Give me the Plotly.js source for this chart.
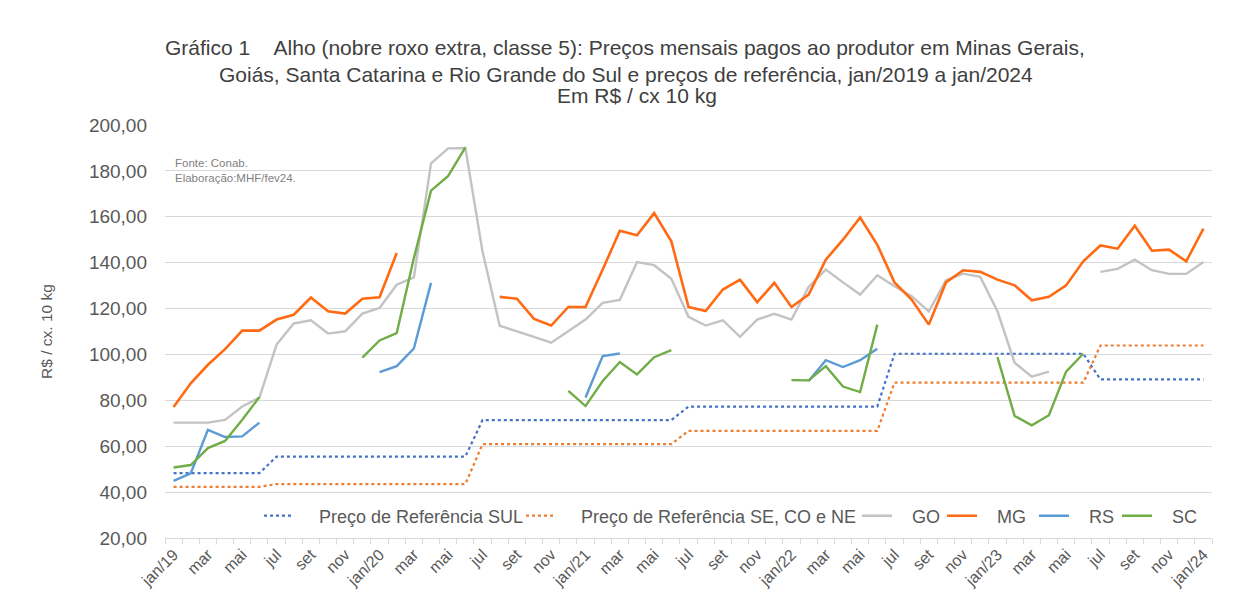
<!DOCTYPE html>
<html>
<head>
<meta charset="utf-8">
<script src="https://cdn.plot.ly/plotly-3.0.1.min.js"></script>
<style>
html,body{margin:0;padding:0;background:#fff;}
#chart{width:1237px;height:594px;}
</style>
</head>
<body>
<div id="chart"></div>
<script>
// Month labels (jan/2019 .. jan/2024)
const monthLabels = [
  'jan/19','fev','mar','abr','mai','jun','jul','ago','set','out','nov','dez',
  'jan/20','fev','mar','abr','mai','jun','jul','ago','set','out','nov','dez',
  'jan/21','fev','mar','abr','mai','jun','jul','ago','set','out','nov','dez',
  'jan/22','fev','mar','abr','mai','jun','jul','ago','set','out','nov','dez',
  'jan/23','fev','mar','abr','mai','jun','jul','ago','set','out','nov','dez',
  'jan/24'
];

const refSul = [
  48.3,48.3,48.3,48.3,48.3,48.3,
  55.5,55.5,55.5,55.5,55.5,55.5,55.5,55.5,55.5,55.5,55.5,55.5,
  71.4,71.4,71.4,71.4,71.4,71.4,71.4,71.4,71.4,71.4,71.4,71.4,
  77.3,77.3,77.3,77.3,77.3,77.3,77.3,77.3,77.3,77.3,77.3,77.3,
  100.3,100.3,100.3,100.3,100.3,100.3,100.3,100.3,100.3,100.3,100.3,100.3,
  89.1,89.1,89.1,89.1,89.1,89.1,89.1
];

const refSeCoNe = [
  42.3,42.3,42.3,42.3,42.3,42.3,
  43.5,43.5,43.5,43.5,43.5,43.5,43.5,43.5,43.5,43.5,43.5,43.5,
  60.9,60.9,60.9,60.9,60.9,60.9,60.9,60.9,60.9,60.9,60.9,60.9,
  66.7,66.7,66.7,66.7,66.7,66.7,66.7,66.7,66.7,66.7,66.7,66.7,
  87.7,87.7,87.7,87.7,87.7,87.7,87.7,87.7,87.7,87.7,87.7,87.7,
  103.9,103.9,103.9,103.9,103.9,103.9,103.9
];

const go = [
  70.3,70.3,70.3,71.5,77.3,81.2,104.3,113.5,114.9,109.1,
  110.1,117.8,120.3,130.4,133.6,183.3,189.8,190.0,144.9,112.5,
  110.2,107.7,105.1,110.0,115.2,122.5,123.8,140.3,138.9,133.0,
  116.4,112.6,114.9,107.7,115.2,117.7,115.2,129.4,137.0,131.4,
  126.1,134.5,129.7,125.4,118.8,132.3,135.2,133.8,118.8,96.4,
  90.3,92.5,null,null,136.0,137.3,141.3,136.7,135.1,135.1,140.3
];

const mg = [
  77.1,87.4,95.5,102.3,110.4,110.4,115.2,117.3,124.8,118.8,
  117.8,124.3,124.9,144.2,null,null,null,null,null,125.1,
  124.3,115.5,112.6,120.7,120.7,137.0,153.9,151.9,161.6,149.3,
  120.7,118.9,128.3,132.6,122.8,131.2,120.7,126.1,141.3,150.0,
  159.7,147.8,131.4,123.9,113.0,131.4,136.7,136.0,132.6,130.1,
  123.6,125.1,130.1,140.6,147.5,146.1,156.1,145.2,145.7,140.6,154.8
];

const rs = [
  44.9,48.2,67.1,64.0,64.3,70.3,null,null,null,null,
  null,null,92.3,94.9,102.6,131.2,null,null,null,null,
  null,null,null,null,81.2,99.3,100.4,null,null,null,
  null,null,null,null,null,null,null,88.4,97.5,94.5,
  97.5,102.5,null,null,null,null,null,null,null,null,
  null,null,null,null,null,null,null,null,null,null,null
];

const sc = [
  50.7,51.8,59.2,62.3,71.5,81.4,null,null,null,null,
  null,98.6,106.1,109.3,142.0,171.4,177.8,190.3,null,null,
  null,null,null,84.1,77.5,88.4,96.7,91.3,98.8,101.9,
  null,null,null,null,null,null,88.8,88.7,94.9,86.0,
  83.6,113.0,null,null,null,null,null,null,98.8,73.2,
  69.1,73.5,92.5,100.3,null,null,null,null,null,null,null
];

const seriesNames = ['Preço de Referência SUL','Preço de Referência SE, CO e NE','GO','MG','RS','SC'];

const yTicks = [20,40,60,80,100,120,140,160,180,200];
const yTickText = ['20,00','40,00','60,00','80,00','100,00','120,00','140,00','160,00','180,00','200,00'];

const xIdx = monthLabels.map((_, i) => i);
const xTickVals = xIdx.filter(i => i % 2 === 0);
const xTickText = xTickVals.map(i => monthLabels[i]);

const L = 165, R = 25, T = 125, B = 56, W = 1237, H = 594;
const pw = W - L - R, ph = H - T - B;
const px = x => (x - L) / pw;
const py = y => (H - B - y) / ph;

const FAM = 'Liberation Sans, Arial, sans-serif';
const legendStarts = [259, 521, 857, 942, 1034, 1117];
const legendPads = [4, 4, 3, 3, 3, 3];

const mk = (k, y, color, width, dash) => ({
  type: 'scatter', mode: 'lines',
  name: '\u00a0'.repeat(legendPads[k]) + seriesNames[k],
  x: xIdx, y: y,
  line: {color: color, width: width, dash: dash || 'solid'},
  connectgaps: false, hoverinfo: 'x+y+name',
  legend: k === 0 ? 'legend' : 'legend' + (k + 1)
});

const traces = [
  mk(0, refSul, '#4472C4', 2.2, 'dot'),
  mk(1, refSeCoNe, '#ED7D31', 2.2, 'dot'),
  mk(2, go, '#C3C3C3', 2.4),
  mk(3, mg, '#FF6A13', 2.6),
  mk(4, rs, '#5B9BD5', 2.4),
  mk(5, sc, '#70AD47', 2.4)
];

const legendBase = k => ({
  orientation: 'h', x: px(legendStarts[k]), y: py(516), xanchor: 'left', yanchor: 'middle',
  font: {size: 18, color: '#595959', family: FAM}, bgcolor: 'rgba(0,0,0,0)', itemwidth: 30
});

const titleFont = {family: FAM, size: 21, color: '#404040'};

const layout = {
  width: W, height: H,
  margin: {l: L, r: R, t: T, b: B},
  paper_bgcolor: '#ffffff', plot_bgcolor: '#ffffff',
  font: {family: FAM, color: '#595959'},
  showlegend: true,
  legend: legendBase(0),
  legend2: legendBase(1),
  legend3: legendBase(2),
  legend4: legendBase(3),
  legend5: legendBase(4),
  legend6: legendBase(5),
  xaxis: {
    range: [-0.5, 60.5], tickmode: 'array', tickvals: xTickVals, ticktext: xTickText,
    tickangle: -45, tickfont: {size: 16, color: '#595959'},
    showgrid: false, zeroline: false, showline: true, linecolor: '#D9D9D9', linewidth: 1,
    ticks: '', automargin: false,
    minor: {tickmode: 'linear', tick0: -0.5, dtick: 1, ticks: 'outside', ticklen: 5, tickcolor: '#D9D9D9', showgrid: false}
  },
  yaxis: {
    range: [20, 200], tickmode: 'array', tickvals: yTicks, ticktext: yTickText,
    tickfont: {size: 19, color: '#595959'},
    showgrid: true, gridcolor: '#D9D9D9', gridwidth: 1, zeroline: false,
    showline: false, ticks: '', ticklabelstandoff: 17, automargin: false,
    title: {text: 'R$ / cx. 10 kg', font: {size: 15.5, color: '#595959'}, standoff: 32}
  },
  annotations: [
    {xref: 'paper', yref: 'paper', x: px(625), y: py(47), xanchor: 'center', yanchor: 'middle', showarrow: false,
     text: 'Gráfico 1\u00a0\u00a0\u00a0\u00a0Alho (nobre roxo extra, classe 5): Preços mensais pagos ao produtor em Minas Gerais,', font: titleFont},
    {xref: 'paper', yref: 'paper', x: px(626), y: py(74), xanchor: 'center', yanchor: 'middle', showarrow: false,
     text: 'Goiás, Santa Catarina e Rio Grande do Sul e preços de referência, jan/2019 a jan/2024', font: titleFont},
    {xref: 'paper', yref: 'paper', x: px(637), y: py(96), xanchor: 'center', yanchor: 'middle', showarrow: false,
     text: 'Em R$ / cx 10 kg', font: titleFont},
    {xref: 'paper', yref: 'paper', x: px(173), y: py(170), xanchor: 'left', yanchor: 'middle', showarrow: false, align: 'left',
     text: 'Fonte: Conab.<br>Elaboração:MHF/fev24.', font: {size: 11.5, color: '#7F7F7F'}}
  ]
};

Plotly.newPlot('chart', traces, layout, {displayModeBar: false, staticPlot: true});
</script>
</body>
</html>
